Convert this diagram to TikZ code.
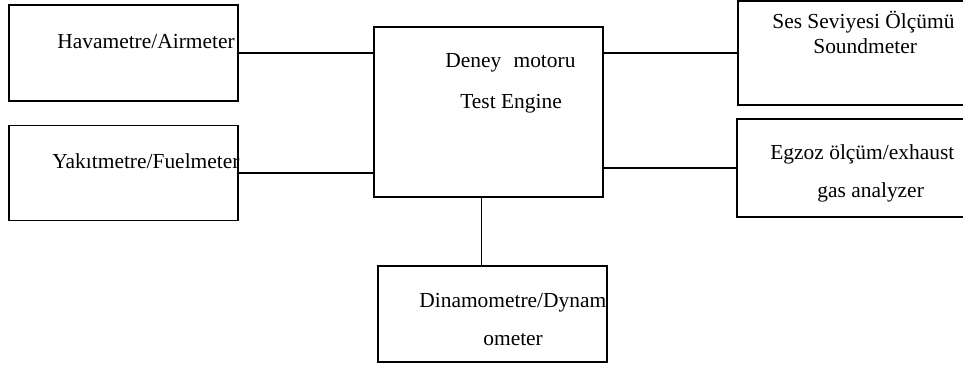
\documentclass[tikz,border=0pt]{standalone}
\usepackage{fontspec}
\setmainfont{Liberation Serif}
\usetikzlibrary{positioning}
\tikzset{
  mybox/.style = {rectangle, draw, line width=1pt, inner sep=0pt, outer sep=0pt},
  mytext/.style = {anchor=base west, inner sep=0pt, font=\fontsize{12.2}{14}\selectfont},
  myline/.style = {line width=0.9pt},
}
\begin{document}
\begin{tikzpicture}[x=0.02cm, y=-0.02cm]
\useasboundingbox (0,0) rectangle (963,365);
\clip (0,0) rectangle (963,365);
% boxes
\node (hava) [mybox, minimum width=4.58cm, minimum height=1.92cm] at (123.5,53) {};
\node (yakit) [mybox, minimum width=4.58cm, minimum height=1.90cm] at (123.5,173) {};
\node (motor) [mybox, minimum width=4.58cm, minimum height=3.40cm] at (488.5,112) {};
\node (ses) [mybox, minimum width=4.80cm, minimum height=2.08cm] at (858,53) {};
\node (egzoz) [mybox, minimum width=4.82cm, minimum height=1.96cm] at (857.5,168) {};
\node (dinamo) [mybox, minimum width=4.58cm, minimum height=1.92cm] at (492.5,314) {};
% texts
\node (havat) [mytext] at (57,48) {Havametre/Airmeter};
\node (yakitt) [mytext] at (52,168) {Yakıtmetre/Fuelmeter};
\node (motort) [mytext] at (445,67) {Deney\hspace{7pt}motoru};
\node (motort2) [mytext] at (460,108) {Test Engine};
\node (sest) [mytext] at (772,29) {Ses Seviyesi Ölçümü};
\node (sest2) [mytext] at (813,53) {Soundmeter};
\node (egzozt) [mytext] at (770,159) {Egzoz ölçüm/exhaust};
\node (egzozt2) [mytext] at (817,197) {gas analyzer};
\node (dinamot) [mytext] at (419,307) {Dinamometre/Dynam};
\node (dinamot2) [mytext] at (483,345) {ometer};

\foreach \u in {hava,yakit}{
  \draw[myline] (\u.east) -- (\u.east -| motor.west);
}
\foreach \v in {ses,egzoz}{
  \draw[myline] (motor.east |- \v.west) -- (\v.west);
}
\draw[myline] ([xshift=-4pt]motor.south) -- ([xshift=-4pt]motor.south |- dinamo.north);
\end{tikzpicture}
\end{document}
